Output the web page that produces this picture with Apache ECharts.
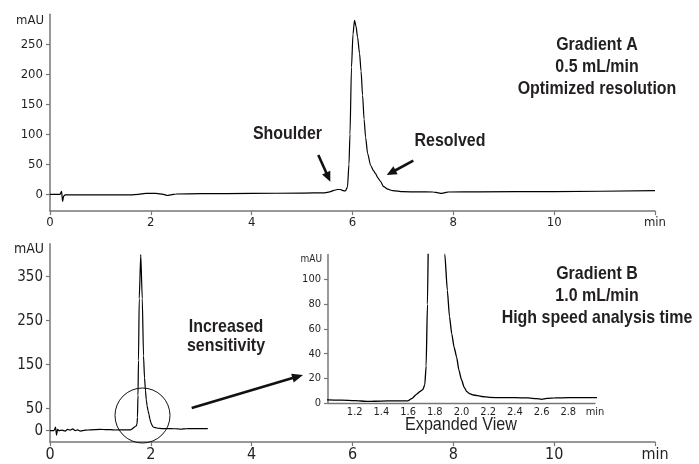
<!DOCTYPE html>
<html><head><meta charset="utf-8">
<script src="https://cdn.jsdelivr.net/npm/echarts@6/dist/echarts.min.js"></script>
<style>html,body{margin:0;padding:0;background:#fff}#c{width:699px;height:464px}</style>
</head><body><div id="c"></div>
<script>
// ---- Gradient A (0.5 mL/min) chromatogram: time (min) and absorbance (mAU)
const gradATime = [0,0.2,0.23,0.25,0.27,0.3,0.4,1.0,1.6,1.75,1.9,2.1,2.25,2.33,2.4,2.5,3.0,4.0,5.0,5.45,5.55,5.63,5.7,5.76,5.82,5.86,5.9,5.93,5.95,5.98,6.01,6.04,6.07,6.1,6.14,6.17,6.2,6.23,6.26,6.3,6.36,6.42,6.46,6.5,6.55,6.62,6.7,6.8,7.0,7.3,7.6,7.7,7.76,7.82,7.9,8.5,10.0,12.0];
const gradAValue = [0,0,5,-12,-3,-1,-1,-1,-1,0,1.5,1.5,0,-2,-1,0.5,1,1.5,2,2.5,4,6.5,8,8,6,5.5,12,50,100,212,267,290,280,262,235,205,165,125,95,68,48,39,34,28,22,12.7,8.5,6,4.3,4,3.8,2.5,1.5,2.5,3.8,4,4.6,6];
// ---- Gradient B (1.0 mL/min) chromatogram
const gradBTime = [0,0.08,0.11,0.13,0.15,0.18,0.24,0.3,0.35,0.4,0.45,0.5,0.55,0.6,0.7,0.8,1.0,1.1,1.2,1.3,1.4,1.5,1.6,1.63,1.66,1.69,1.71,1.725,1.735,1.745,1.755,1.77,1.8,1.83,1.855,1.875,1.894,1.91,1.927,1.945,1.964,1.98,2.0,2.02,2.04,2.06,2.09,2.15,2.21,2.3,2.4,2.5,2.56,2.6,2.64,2.7,2.8,2.9,3.0,3.13];
const gradBValue = [0,0,8,-10,3,0,1,-1,3,1,4,0,2,-1,1,2,2.7,2.5,2.2,1.5,1.8,2,2,4,7,9.5,11,15,30,80,160,300,400,300,170,120,91,70,56,45,37,27,19,13,9.4,7.8,6.7,5.5,4.8,4.5,4.5,4.3,3.8,3.2,3.9,4.4,4.5,4.5,4.6,4.6];
// ---- Axis ticks / labels
const topYTicks = [0,50,100,150,200,250];
const botYTicks = [0,50,150,250,350];
const insetYTicks = [0,20,40,60,80,100];
const mainXTicks = [0,2,4,6,8,10,12];
const mainXLabels = ['0','2','4','6','8','10','min'];
const insetXTicks = [1.0,1.2,1.4,1.6,1.8,2.0,2.2,2.4,2.6,2.8,3.0];
const insetXLabels = ['','1.2','1.4','1.6','1.8','2.0','2.2','2.4','2.6','2.8','min'];
const unitLabel = 'mAU';
// ---- Annotation texts
const gradALines = ['Gradient A','0.5 mL/min','Optimized resolution'];
const gradBLines = ['Gradient B','1.0 mL/min','High speed analysis time'];
const shoulderText = 'Shoulder';
const resolvedText = 'Resolved';
const sensitivityLines = ['Increased','sensitivity'];
const expandedText = 'Expanded View';

const FN = '"DejaVu Sans Condensed","Liberation Sans",sans-serif';
const FA = '"Liberation Sans",Arial,sans-serif';
const AX = '#777777';
const TXT = '#231f20';

const zip = (a,b) => a.map((t,i)=>[t,b[i]]);
const lblFrom = (ticks, labels) => v => { const i = ticks.findIndex(t=>Math.abs(t-v)<1e-6); return i<0?'':labels[i]; };

function xAxisMain(grid, fs){
  return {type:'value', gridIndex:grid, min:0, max:12, interval:2,
    axisLine:{show:true, onZero:false, lineStyle:{color:AX, width:1.5}},
    axisTick:{show:true, length:4, lineStyle:{color:AX, width:1.2}},
    splitLine:{show:false},
    axisLabel:{margin:5, fontFamily:FN, fontSize:fs, color:TXT, formatter:lblFrom(mainXTicks, mainXLabels)}};
}
function yAxis(grid, min, max, ticks, fs, nameFs, gap){
  return {type:'value', gridIndex:grid, min:min, max:max,
    name:unitLabel, nameLocation:'end', nameGap:gap,
    nameTextStyle:{fontFamily:FN, fontSize:nameFs, color:TXT, align:'right', verticalAlign:'middle', padding:[0,6,0,0]},
    axisLine:{show:true, onZero:false, lineStyle:{color:AX, width:1.5}},
    axisTick:{show:true, length:4, customValues:ticks, lineStyle:{color:AX, width:1.2}},
    splitLine:{show:false},
    axisLabel:{margin:7, fontFamily:FN, fontSize:fs, color:TXT, customValues:ticks}};
}

function arrow(x1,y1,x2,y2,lw,head,hw){
  const dx=x2-x1, dy=y2-y1, L=Math.hypot(dx,dy), ux=dx/L, uy=dy/L;
  const bx=x2-ux*head, by=y2-uy*head, px=-uy, py=ux;
  return [
    {type:'line', shape:{x1:x1,y1:y1,x2:bx+ux*1,y2:by+uy*1}, style:{stroke:'#111', lineWidth:lw}, z:10},
    {type:'polygon', shape:{points:[[x2,y2],[bx+px*hw,by+py*hw],[bx-px*hw,by-py*hw]]}, style:{fill:'#111'}, z:10}
  ];
}
function txt(x,y,text,fs,weight,lh,sx){
  return {type:'text', x:x, y:y, z:10, scaleX:sx||1, style:{text:text, fontFamily:FA, fontSize:fs, fontWeight:weight, fill:TXT, align:'center', verticalAlign:'middle', lineHeight:lh||fs}};
}

const chart = echarts.init(document.getElementById('c'), null, {renderer:'canvas'});
const lineStyle = {color:'#000', width:1.2};
const option = {
  animation:false,
  backgroundColor:'#fff',
  grid:[
    {left:50, right:44, top:14.3, height:196.8},
    {left:50, right:44, top:243.7, height:198.4},
    {left:328, right:104, top:254.5, height:148.8}
  ],
  xAxis:[
    xAxisMain(0, 13),
    xAxisMain(1, 16),
    {type:'value', gridIndex:2, min:1.0, max:3.0, interval:0.2,
      axisLine:{show:true, onZero:true, lineStyle:{color:AX, width:1.3}},
      axisTick:{show:false},
      splitLine:{show:false},
      axisLabel:{margin:3, fontFamily:FN, fontSize:11, color:TXT, showMinLabel:true, showMaxLabel:true, formatter:lblFrom(insetXTicks, insetXLabels)}}
  ],
  yAxis:[
    yAxis(0, -28, 300, topYTicks, 13, 13, -6),
    yAxis(1, -26, 425, botYTicks, 15, 14, -6),
    yAxis(2, 0, 120, insetYTicks, 11, 10, -5)
  ],
  series:[
    {type:'line', xAxisIndex:0, yAxisIndex:0, data:zip(gradATime, gradAValue), showSymbol:false, smooth:0.25, smoothMonotone:'x', lineStyle:lineStyle, clip:true},
    {type:'line', xAxisIndex:1, yAxisIndex:1, data:zip(gradBTime, gradBValue), showSymbol:false, smooth:0.2, smoothMonotone:'x', lineStyle:lineStyle, clip:true},
    {type:'line', xAxisIndex:2, yAxisIndex:2, data:zip(gradBTime, gradBValue), showSymbol:false, smooth:0.2, smoothMonotone:'x', lineStyle:{color:'#000', width:1.3}, clip:true}
  ],
  graphic:[].concat(
    [txt(597, 66.7, gradALines.join('\n'), 19, 'bold', 21.7, 0.84)],
    [txt(597, 295.3, gradBLines.join('\n'), 19, 'bold', 22, 0.84)],
    [txt(287.5, 133.3, shoulderText, 19, 'bold', 19, 0.84)],
    [txt(450, 141, resolvedText, 19, 'bold', 19, 0.84)],
    [txt(226, 336, sensitivityLines.join('\n'), 19, 'bold', 19, 0.84)],
    [txt(461, 425, expandedText, 19, 'normal', 19, 0.85)],
    arrow(318.3,155,330.3,181.7,2.6,10,4.5),
    arrow(413.3,160.7,386.7,175,2.6,10,4.5),
    arrow(191.7,408,303,375,2.6,11,4.5),
    [{type:'circle', shape:{cx:142.5, cy:415.5, r:27.5}, style:{fill:null, stroke:'#111', lineWidth:1}, z:10}]
  )
};
chart.setOption(option);
</script>
</body></html>
